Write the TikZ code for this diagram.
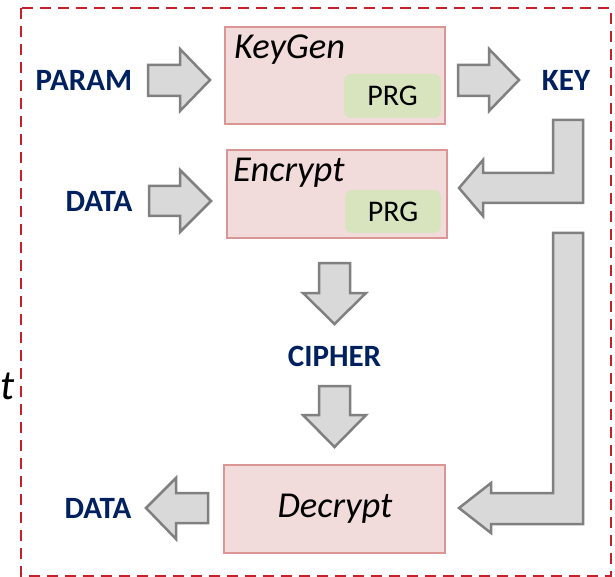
\documentclass[tikz,border=0pt]{standalone}
\usepackage{fontspec}
\setmainfont{Carlito}
\definecolor{navy}{HTML}{002060}
\definecolor{boxfill}{HTML}{F2DCDB}
\definecolor{boxline}{HTML}{D99694}
\definecolor{prgfill}{HTML}{D7E4BD}
\definecolor{arrfill}{HTML}{D9D9D9}
\definecolor{arrline}{HTML}{808080}
\definecolor{frame}{HTML}{C8202A}
\begin{document}
\begin{tikzpicture}[x=1pt,y=-1pt,
  lbl/.style={text=navy,font=\fontsize{31}{33}\selectfont\bfseries,inner sep=0pt},
  algbox/.style={draw=boxline,fill=boxfill,line width=2pt,inner sep=0pt},
  algname/.style={font=\fontsize{36.5}{38}\selectfont\itshape,inner sep=0pt},
  prgbox/.style={fill=prgfill,rounded corners=7pt,inner sep=0pt,
    font=\fontsize{30}{32}\selectfont},
  blockarr/.style={draw=arrline,fill=arrfill,line width=2.5pt,line join=miter},
  outline/.style={draw=frame,line width=2.3pt,dash pattern=on 11pt off 7pt}]
\useasboundingbox (0,0) rectangle (615,577);

% dashed outer frame
\draw[outline] (21,8) rectangle (611,576);
\node[font=\fontsize{42}{44}\selectfont\itshape,inner sep=0pt] (tlabel) at (8,386) {t};

% algorithm boxes
\node[algbox,minimum width=220pt,minimum height=97pt] (keygen) at (335,75.5) {};
\node[prgbox,minimum width=97pt,minimum height=44pt] (prg1) at (392.5,96) {PRG};
\node[algname,anchor=base west] (kgname) at (234,59) {KeyGen};

\node[algbox,minimum width=220pt,minimum height=88pt] (encrypt) at (337,194) {};
\node[prgbox,minimum width=96pt,minimum height=43pt] (prg2) at (393,211.5) {PRG};
\node[algname,anchor=base west] (encname) at (233,182) {Encrypt};

\node[algbox,minimum width=221pt,minimum height=88pt] (decrypt) at (334.5,509) {};
\node[algname] (decname) at (335,509) {Decrypt};

% input / output labels
\node[lbl] (param) at (84,80) {PARAM};
\node[lbl] (datain) at (99,201) {DATA};
\node[lbl] (key) at (566,80) {KEY};
\node[lbl] (cipher) at (334.5,356) {CIPHER};
\node[lbl] (dataout) at (98,508) {DATA};

% block arrows pointing right
\draw[blockarr] (148,65) -- (180,65) -- (180,49) -- (210,80) -- (180,111)
  -- (180,96) -- (148,96) -- cycle;
\draw[blockarr] (458,65) -- (489,65) -- (489,49) -- (519,80) -- (489,111)
  -- (489,96) -- (458,96) -- cycle;
\draw[blockarr] (149,186) -- (180,186) -- (180,170) -- (211,201) -- (180,232)
  -- (180,216) -- (149,216) -- cycle;

% block arrows pointing down
\draw[blockarr] (319,263) -- (350,263) -- (350,293) -- (366,293) -- (334.5,324)
  -- (303,293) -- (319,293) -- cycle;
\draw[blockarr] (319,386) -- (350,386) -- (350,415) -- (366,415) -- (334.5,447)
  -- (303,415) -- (319,415) -- cycle;

% key routed to encryption and decryption
\draw[blockarr] (583,120) -- (583,203) -- (483,203) -- (483,216) -- (459,188)
  -- (483,160) -- (483,173) -- (553,173) -- (553,120) -- cycle;
\draw[blockarr] (583,233) -- (583,524) -- (491,524) -- (491,533) -- (459,508)
  -- (491,483) -- (491,493) -- (553,493) -- (553,233) -- cycle;

% decrypted output
\draw[blockarr] (208,493) -- (176,493) -- (176,478) -- (146,508) -- (176,539)
  -- (176,523) -- (208,523) -- cycle;
\end{tikzpicture}
\end{document}
